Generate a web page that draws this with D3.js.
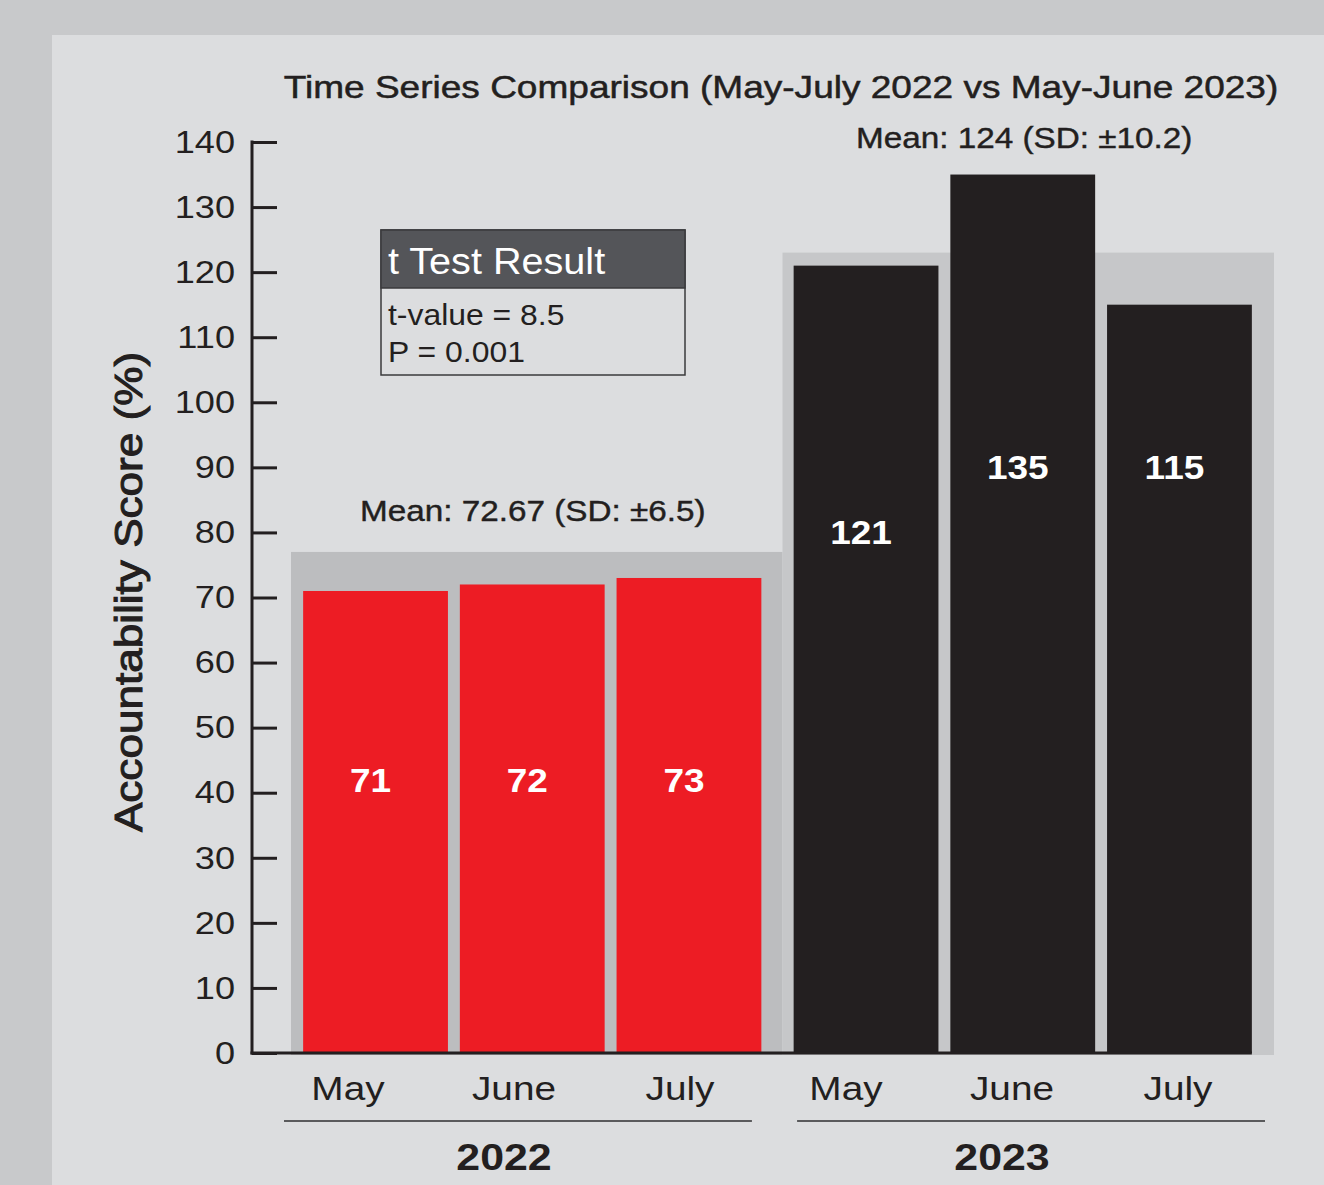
<!DOCTYPE html>
<html>
<head>
<meta charset="utf-8">
<script src="https://cdnjs.cloudflare.com/ajax/libs/d3/7.8.5/d3.min.js"></script>
<style>
  body { margin: 0; background: #c8c9cb; }
  svg text { font-family: "Liberation Sans", Arial, Helvetica, sans-serif; fill: #231f20; }
</style>
</head>
<body>
<div id="chart"></div>
<script>
// data
var years = ["2022", "2023"];
var months = ["May", "June", "July"];
var scores2022 = [71, 72, 73];
var scores2023 = [121, 135, 115];
var labelAt2022 = [42, 42, 42];   // where the value labels sit (score units)
var labelAt2023 = [80, 90, 90];
var bandTop = [77, 123];          // grey backdrop height per year
var meanText = ["Mean: 72.67 (SD: \u00b16.5)", "Mean: 124 (SD: \u00b110.2)"];
var yTicks = [0, 10, 20, 30, 40, 50, 60, 70, 80, 90, 100, 110, 120, 130, 140];
var tTest = ["t-value = 8.5", "P = 0.001"];

var W = 1324, H = 1185;
var svg = d3.select("#chart").append("svg").attr("width", W).attr("height", H);

// the original face is a bit wider than Liberation Sans, stretch text to fit
function widen(sel, k) {
  sel.each(function () {
    var w = this.getComputedTextLength();
    d3.select(this).attr("textLength", w * k).attr("lengthAdjust", "spacingAndGlyphs");
  });
}

// backgrounds
svg.append("rect").attr("width", W).attr("height", H).attr("fill", "#c8c9cb");
svg.append("rect").attr("x", 52).attr("y", 35).attr("width", W - 52).attr("height", H - 35).attr("fill", "#dcdddf");

var rows = [];
years.forEach(function (yr, gi) {
  var vals = gi === 0 ? scores2022 : scores2023;
  var at = gi === 0 ? labelAt2022 : labelAt2023;
  months.forEach(function (m, i) {
    rows.push({ year: yr, month: m, value: vals[i], labelAt: at[i], key: yr + "-" + m });
  });
});

var y = d3.scaleLinear().domain([0, 140]).range([1053, 142]);
var xBand = d3.scaleBand().domain(years).range([291, 1274]);
var xGroup = d3.scaleBand().domain(years).range([287, 1268]);
var xMonth = d3.scaleBand().domain(months).range([0, xGroup.bandwidth()])
  .paddingInner(0.076).paddingOuter(0.103);
var xLabel = d3.scaleBand().domain(rows.map(function (d) { return d.key; })).range([265, 1261]);
var xLine = d3.scaleBand().domain(years).range([284, 1265]).paddingInner(0.088);

var barColor = { "2022": "#ed1c24", "2023": "#231f20" };
var bandColor = { "2022": "#bcbdbf", "2023": "#c6c7c9" };

// title
svg.append("text").attr("x", 781).attr("y", 98).attr("text-anchor", "middle")
  .style("font-size", "32px").style("stroke", "#231f20").style("stroke-width", 0.5)
  .text("Time Series Comparison (May-July 2022 vs May-June 2023)")
  .call(widen, 1.157);

// grey backdrops
svg.selectAll(".band").data(years).enter().append("rect")
  .attr("class", "band")
  .attr("x", function (d) { return xBand(d); })
  .attr("y", function (d, i) { return y(bandTop[i]); })
  .attr("width", xBand.bandwidth())
  .attr("height", function (d, i) { return y(0) + 2 - y(bandTop[i]); })
  .attr("fill", function (d) { return bandColor[d]; });

// bars
svg.selectAll(".bar").data(rows).enter().append("rect")
  .attr("class", "bar")
  .attr("x", function (d) { return xGroup(d.year) + xMonth(d.month); })
  .attr("y", function (d) { return y(d.value); })
  .attr("width", xMonth.bandwidth())
  .attr("height", function (d) { return y(0) - y(d.value); })
  .attr("fill", function (d) { return barColor[d.year]; });

// value labels
svg.selectAll(".val").data(rows).enter().append("text")
  .attr("x", function (d) { return xGroup(d.year) + xMonth(d.month) + xMonth.bandwidth() / 2 - 5; })
  .attr("y", function (d) { return y(d.labelAt) + 12; })
  .attr("text-anchor", "middle")
  .style("font-size", "33px").style("font-weight", "bold").style("fill", "#fff")
  .text(function (d) { return d.value; })
  .call(widen, 1.12);

// mean labels
svg.selectAll(".mean").data(years).enter().append("text")
  .attr("x", function (d) { return xBand(d) + xBand.bandwidth() / 2 - 4; })
  .attr("y", function (d, i) {
    var vals = i === 0 ? scores2022 : scores2023;
    return Math.min(y(bandTop[i]) - 31, y(d3.max(vals)) - 27);
  })
  .attr("text-anchor", "middle")
  .style("font-size", "29px").style("stroke", "#231f20").style("stroke-width", 0.4)
  .text(function (d, i) { return meanText[i]; })
  .call(widen, 1.147);

// y axis
var yAxis = d3.axisLeft(y).tickValues(yTicks).tickSize(-25).tickPadding(17);
var gy = svg.append("g").attr("transform", "translate(252,0)").call(yAxis);
gy.select(".domain").remove();
gy.selectAll(".tick line").attr("stroke", "#231f20").attr("stroke-width", 3);
gy.selectAll(".tick text").style("font-size", "32px").style("font-family", "Liberation Sans, Arial, sans-serif")
  .attr("fill", "#231f20").call(widen, 1.13);
svg.append("line").attr("x1", 252).attr("x2", 252).attr("y1", y(140) - 1.5).attr("y2", y(0) + 1.5)
  .attr("stroke", "#231f20").attr("stroke-width", 3);
var last = rows[rows.length - 1];
svg.append("line").attr("x1", 250.5).attr("y1", y(0)).attr("y2", y(0))
  .attr("x2", xGroup(last.year) + xMonth(last.month) + xMonth.bandwidth())
  .attr("stroke", "#231f20").attr("stroke-width", 3);

svg.append("text")
  .attr("transform", "translate(142," + 592 + ") rotate(-90)")
  .attr("text-anchor", "middle")
  .style("font-size", "38px").style("stroke", "#231f20").style("stroke-width", 1)
  .text("Accountability Score (%)")
  .call(widen, 1.16);

// month labels
svg.selectAll(".month").data(rows).enter().append("text")
  .attr("x", function (d) { return xLabel(d.key) + xLabel.bandwidth() / 2; })
  .attr("y", 1100)
  .attr("text-anchor", "middle")
  .style("font-size", "34px")
  .text(function (d) { return d.month; })
  .call(widen, 1.14);

// year underlines and labels
svg.selectAll(".yline").data(years).enter().append("line")
  .attr("x1", function (d) { return xLine(d); })
  .attr("x2", function (d) { return xLine(d) + xLine.bandwidth(); })
  .attr("y1", 1121).attr("y2", 1121)
  .attr("stroke", "#5a5a5c").attr("stroke-width", 2);
svg.selectAll(".year").data(years).enter().append("text")
  .attr("x", function (d) { return xLabel(d + "-June") + xLabel.bandwidth() / 2 - 10; })
  .attr("y", 1170)
  .attr("text-anchor", "middle")
  .style("font-size", "36px").style("font-weight", "bold")
  .text(function (d) { return d; })
  .call(widen, 1.19);

// t test box
var box = svg.append("g").attr("transform", "translate(381,230)");
box.append("rect").attr("width", 304).attr("height", 145).attr("fill", "#dcdddf")
  .attr("stroke", "#3a3a3c").attr("stroke-width", 1.5);
box.append("rect").attr("width", 304).attr("height", 58).attr("fill", "#545559")
  .attr("stroke", "#3a3a3c").attr("stroke-width", 1.5);
box.append("text").attr("x", 7).attr("y", 44).style("font-size", "36px").style("fill", "#fff")
  .text("t Test Result")
  .call(widen, 1.1);
box.selectAll(".tt").data(tTest).enter().append("text")
  .attr("x", 7).attr("y", function (d, i) { return 95 + i * 37; })
  .style("font-size", "29px")
  .text(function (d) { return d; })
  .call(widen, 1.1);
</script>
</body>
</html>
